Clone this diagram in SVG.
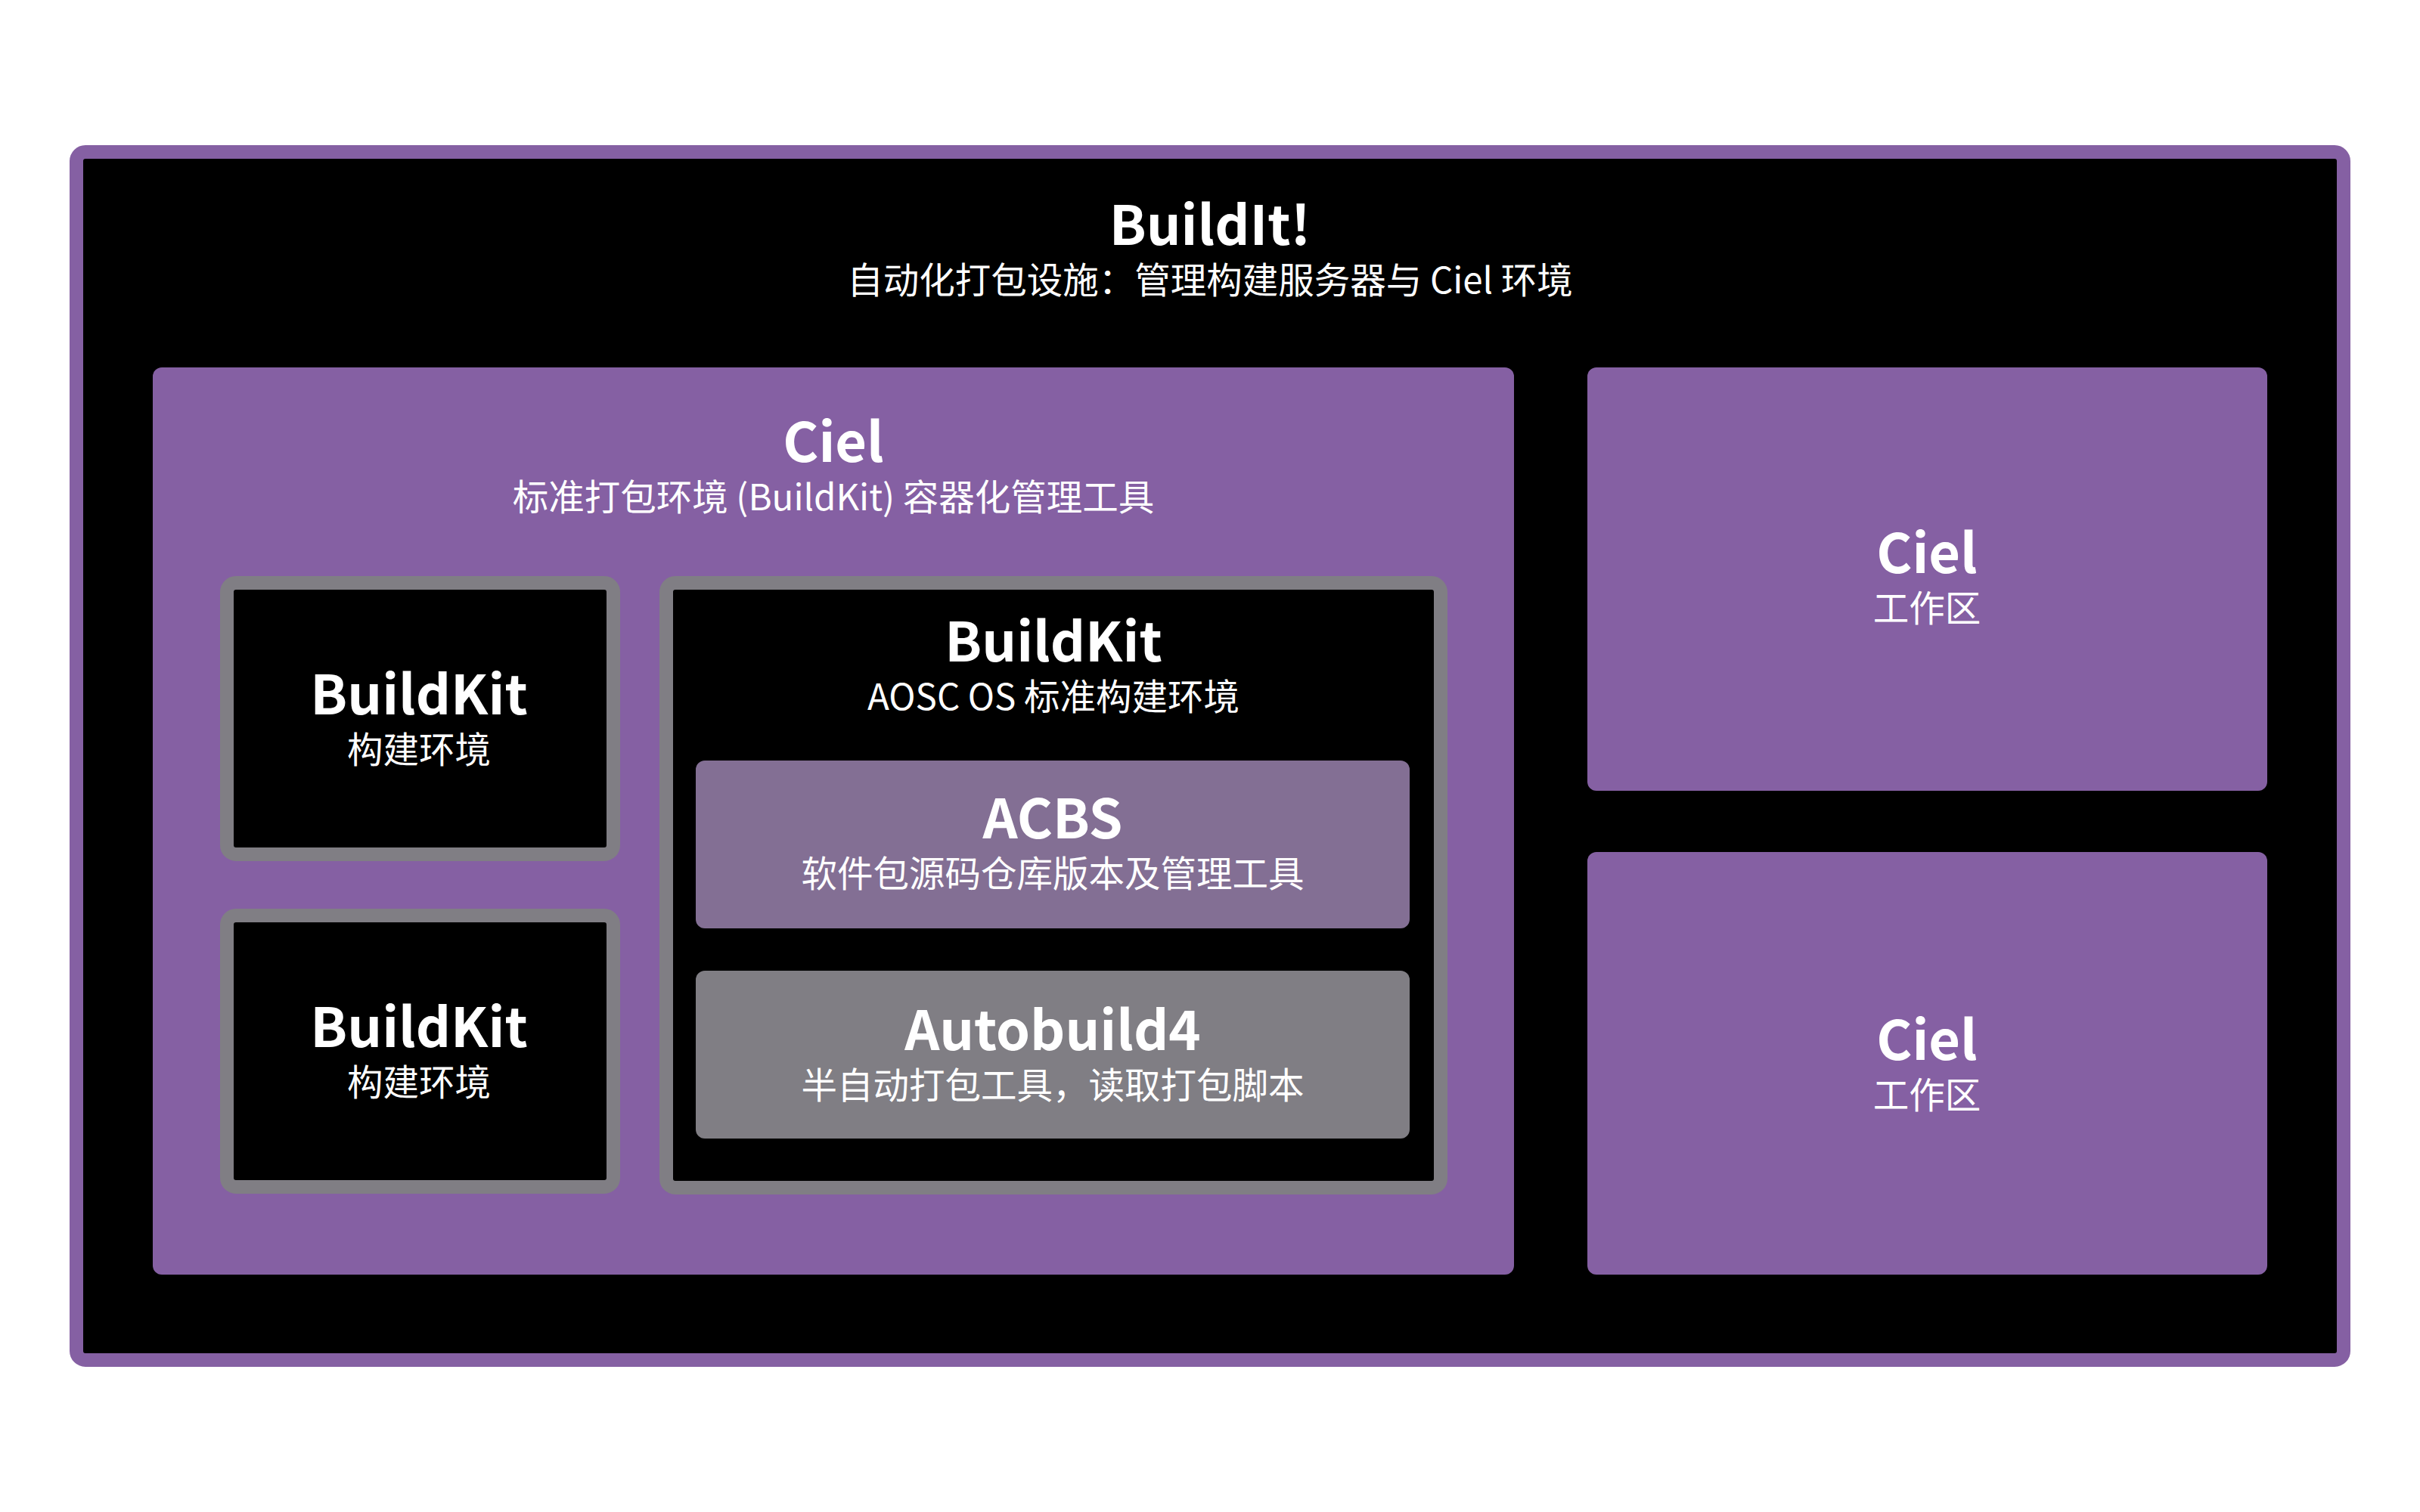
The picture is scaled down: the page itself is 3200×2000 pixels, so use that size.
<svg xmlns="http://www.w3.org/2000/svg" width="3200" height="2000" viewBox="0 0 3200 2000">
<style>
  .t { font-family: "Noto Sans CJK SC", "Noto Sans", sans-serif; font-weight: 700; font-size: 72px; fill: #ffffff; text-anchor: middle; }
  .s { font-family: "Noto Sans CJK SC", "Noto Sans", sans-serif; font-weight: 400; font-size: 47.5px; fill: #ffffff; text-anchor: middle; }
  .purple { fill: #8560A3; }
  .env { fill: #000000; stroke: #807E84; stroke-width: 18; }
</style>
<rect x="0" y="0" width="3200" height="2000" fill="#ffffff"/>
<g id="buildit">
  <rect x="101" y="201" width="2998" height="1598" rx="12" fill="#000000" stroke="#8560A3" stroke-width="18"/>
  <text class="t" x="1600" y="324">BuildIt!</text>
  <text class="s" x="1600" y="388">自动化打包设施：管理构建服务器与 Ciel 环境</text>
</g>
<g id="ciel-main">
  <rect class="purple" x="202" y="486" width="1800" height="1200" rx="12"/>
  <text class="t" x="1102" y="611">Ciel</text>
  <text class="s" x="1102" y="675">标准打包环境 (BuildKit) 容器化管理工具</text>
</g>
<g id="buildkit-1">
  <rect class="env" x="300" y="771" width="511" height="359" rx="12"/>
  <text class="t" x="554" y="945">BuildKit</text>
  <text class="s" x="554" y="1009">构建环境</text>
</g>
<g id="buildkit-2">
  <rect class="env" x="300" y="1211" width="511" height="359" rx="12"/>
  <text class="t" x="554" y="1385">BuildKit</text>
  <text class="s" x="554" y="1449">构建环境</text>
</g>
<g id="buildkit-main">
  <rect class="env" x="881" y="771" width="1024" height="800" rx="12"/>
  <text class="t" x="1393" y="875">BuildKit</text>
  <text class="s" x="1393" y="939">AOSC OS 标准构建环境</text>
</g>
<g id="acbs">
  <rect x="920" y="1006" width="944" height="222" rx="12" fill="#836F94"/>
  <text class="t" x="1392" y="1109">ACBS</text>
  <text class="s" x="1392" y="1173">软件包源码仓库版本及管理工具</text>
</g>
<g id="autobuild4">
  <rect x="920" y="1284" width="944" height="222" rx="12" fill="#807E84"/>
  <text class="t" x="1392" y="1389">Autobuild4</text>
  <text class="s" x="1392" y="1453">半自动打包工具，读取打包脚本</text>
</g>
<g id="ciel-ws-1">
  <rect class="purple" x="2099" y="486" width="899" height="560" rx="12"/>
  <text class="t" x="2548" y="758">Ciel</text>
  <text class="s" x="2548" y="822">工作区</text>
</g>
<g id="ciel-ws-2">
  <rect class="purple" x="2099" y="1127" width="899" height="559" rx="12"/>
  <text class="t" x="2548" y="1402">Ciel</text>
  <text class="s" x="2548" y="1466">工作区</text>
</g>
<g id="connectors"></g>
</svg>
